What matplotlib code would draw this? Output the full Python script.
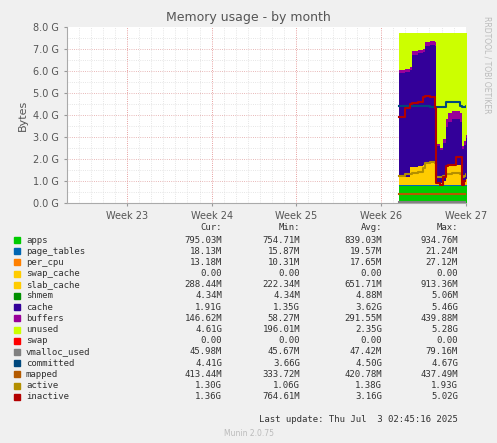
import matplotlib
matplotlib.use("Agg")
import matplotlib.pyplot as plt
import numpy as np

W, H = 497, 443
px = [399,405,410,412,418,423,425,430,435,436,440,443,446,448,452,456,460,462,464,466]
t = [(p-381)/12.1 for p in px]
total = 7.75
apps = [0.78]*20
page_tables = [0.02]*20
per_cpu = [0.013]*20
swap_cache = [0.0]*20
slab_top = [1.2,1.2,1.65,1.65,1.7,1.75,1.85,1.85,1.85,0.9,0.9,1.0,1.7,1.7,1.75,1.75,1.75,1.0,1.05,1.1]
shmem = [0.005]*20
cb_top = [6.05,6.1,6.2,6.9,6.95,7.0,7.3,7.35,7.3,2.7,2.5,2.9,3.8,4.1,4.2,4.2,4.1,2.6,2.8,3.1]
buffers = [0.15,0.15,0.15,0.15,0.15,0.15,0.15,0.15,0.15,0.1,0.1,0.15,0.35,0.4,0.4,0.4,0.4,0.15,0.15,0.15]
committed = [4.4,4.4,4.4,4.4,4.4,4.4,4.4,4.38,4.35,4.35,4.35,4.35,4.6,4.6,4.6,4.6,4.4,4.38,4.38,4.4]
inactive = [3.9,4.3,4.5,4.55,4.6,4.8,4.85,4.8,4.3,0.9,0.8,1.2,1.7,1.75,1.75,2.1,2.1,0.8,1.0,1.0]
active = [1.25,1.3,1.3,1.35,1.4,1.6,1.8,1.85,1.8,1.2,1.2,1.25,1.3,1.3,1.35,1.35,1.3,1.2,1.25,1.3]
mapped = [0.41]*20
vmalloc = [0.046]*20

names = ["apps","page_tables","per_cpu","swap_cache","slab_cache","shmem","cache","buffers","unused","swap",
         "vmalloc_used","committed","mapped","active","inactive"]
colors = ["#00CC00","#0066B3","#FF8000","#FFCC00","#FFCC00","#008F00","#330099","#990099","#CCFF00","#FF0000",
          "#808080","#00487D","#B35A00","#B38F00","#B30000"]
cur = ["795.03M","18.13M","13.18M","0.00","288.44M","4.34M","1.91G","146.62M","4.61G","0.00","45.98M","4.41G","413.44M","1.30G","1.36G"]
mn = ["754.71M","15.87M","10.31M","0.00","222.34M","4.34M","1.35G","58.27M","196.01M","0.00","45.67M","3.66G","333.72M","1.06G","764.61M"]
avg = ["839.03M","19.57M","17.65M","0.00","651.71M","4.88M","3.62G","291.55M","2.35G","0.00","47.42M","4.50G","420.78M","1.38G","3.16G"]
mx = ["934.76M","21.24M","27.12M","0.00","913.36M","5.06M","5.46G","439.88M","5.28G","0.00","79.16M","4.67G","437.49M","1.93G","5.02G"]

def ext(a):
    a = np.asarray(a, dtype=float)
    return np.append(a, a[-1])
te = np.append(np.array(t), (467-381)/12.1)

fig = plt.figure(figsize=(W/100, H/100), dpi=100, facecolor="#F0F0F0")
ax = fig.add_axes([67/W, 1-203/H, (466-67)/W, (203-27)/H])
ax.set_facecolor("white")
base = np.array(apps)+np.array(page_tables)+np.array(per_cpu)+np.array(swap_cache)
slab = np.array(slab_top)-base-np.array(shmem)
cache = np.array(cb_top)-np.array(buffers)-np.array(slab_top)
unused = total-np.array(cb_top)
layers = [apps,page_tables,per_cpu,swap_cache,slab,shmem,cache,buffers,unused,[0]*20]
bottom = np.zeros(21)
for lay, c in zip(layers, colors[:10]):
    top = bottom+ext(lay)
    ax.fill_between(te, bottom, top, step="post", color=c, lw=0)
    bottom = top
for vals, c in zip([vmalloc,committed,mapped,active,inactive], colors[10:]):
    ax.step(te, ext(vals), where="post", color=c, lw=1.5)

ax.set_xlim((67-381)/12.1, (466-381)/12.1)
ax.set_ylim(0, 8)
ax.set_yticks(np.arange(0, 8.1, 1))
ax.set_yticklabels([f"{v:.1f} G" for v in np.arange(0, 8.1, 1)], fontsize=7, color="#555555")
ax.set_xticks([-21,-14,-7,0,7])
ax.set_xticklabels(["Week 23","Week 24","Week 25","Week 26","Week 27"], fontsize=7, color="#555555")
for d in np.arange(-25, 8):
    ax.axvline(d, color="#dddddd" if d % 7 else "#e08080", ls=":", lw=0.6, zorder=0)
for y in np.arange(0.5, 8, 0.5):
    ax.axhline(y, color="#e0a0a0" if y % 1 == 0 else "#dddddd", ls=":", lw=0.6, zorder=0)
ax.tick_params(length=2, colors="#999999", labelcolor="#555555")
for s in ["top","right"]:
    ax.spines[s].set_visible(False)
for s in ["left","bottom"]:
    ax.spines[s].set_color("#aaaaaa")
ax.set_ylabel("Bytes", fontsize=8, color="#555555")

fig.text(0.5, 1-17/H, "Memory usage - by month", ha="center", va="center", fontsize=9, color="#555555")
fig.text(487/W, 1-65/H, "RRDTOOL / TOBI OETIKER", rotation=270, ha="center", va="center", fontsize=5.5, color="#bbbbbb")
mono = dict(family="DejaVu Sans Mono", fontsize=6.5, color="#333333", va="center")
fig.text(222/W, 1-227/H, "Cur:", ha="right", **mono)
fig.text(300/W, 1-227/H, "Min:", ha="right", **mono)
fig.text(382/W, 1-227/H, "Avg:", ha="right", **mono)
fig.text(458/W, 1-227/H, "Max:", ha="right", **mono)
for i, n in enumerate(names):
    y = 240 + i*11.2
    fig.patches.append(plt.Rectangle((14/W, 1-(y+3)/H), 6/W, 6/H, transform=fig.transFigure, color=colors[i]))
    fig.text(26/W, 1-y/H, n, ha="left", **mono)
    fig.text(222/W, 1-y/H, cur[i], ha="right", **mono)
    fig.text(300/W, 1-y/H, mn[i], ha="right", **mono)
    fig.text(382/W, 1-y/H, avg[i], ha="right", **mono)
    fig.text(458/W, 1-y/H, mx[i], ha="right", **mono)
fig.text(458/W, 1-420/H, "Last update: Thu Jul  3 02:45:16 2025", ha="right", **mono)
fig.text(0.5, 1-433/H, "Munin 2.0.75", ha="center", va="center", fontsize=5.5, color="#bbbbbb")
fig.savefig("out.png", dpi=100, facecolor=fig.get_facecolor())
